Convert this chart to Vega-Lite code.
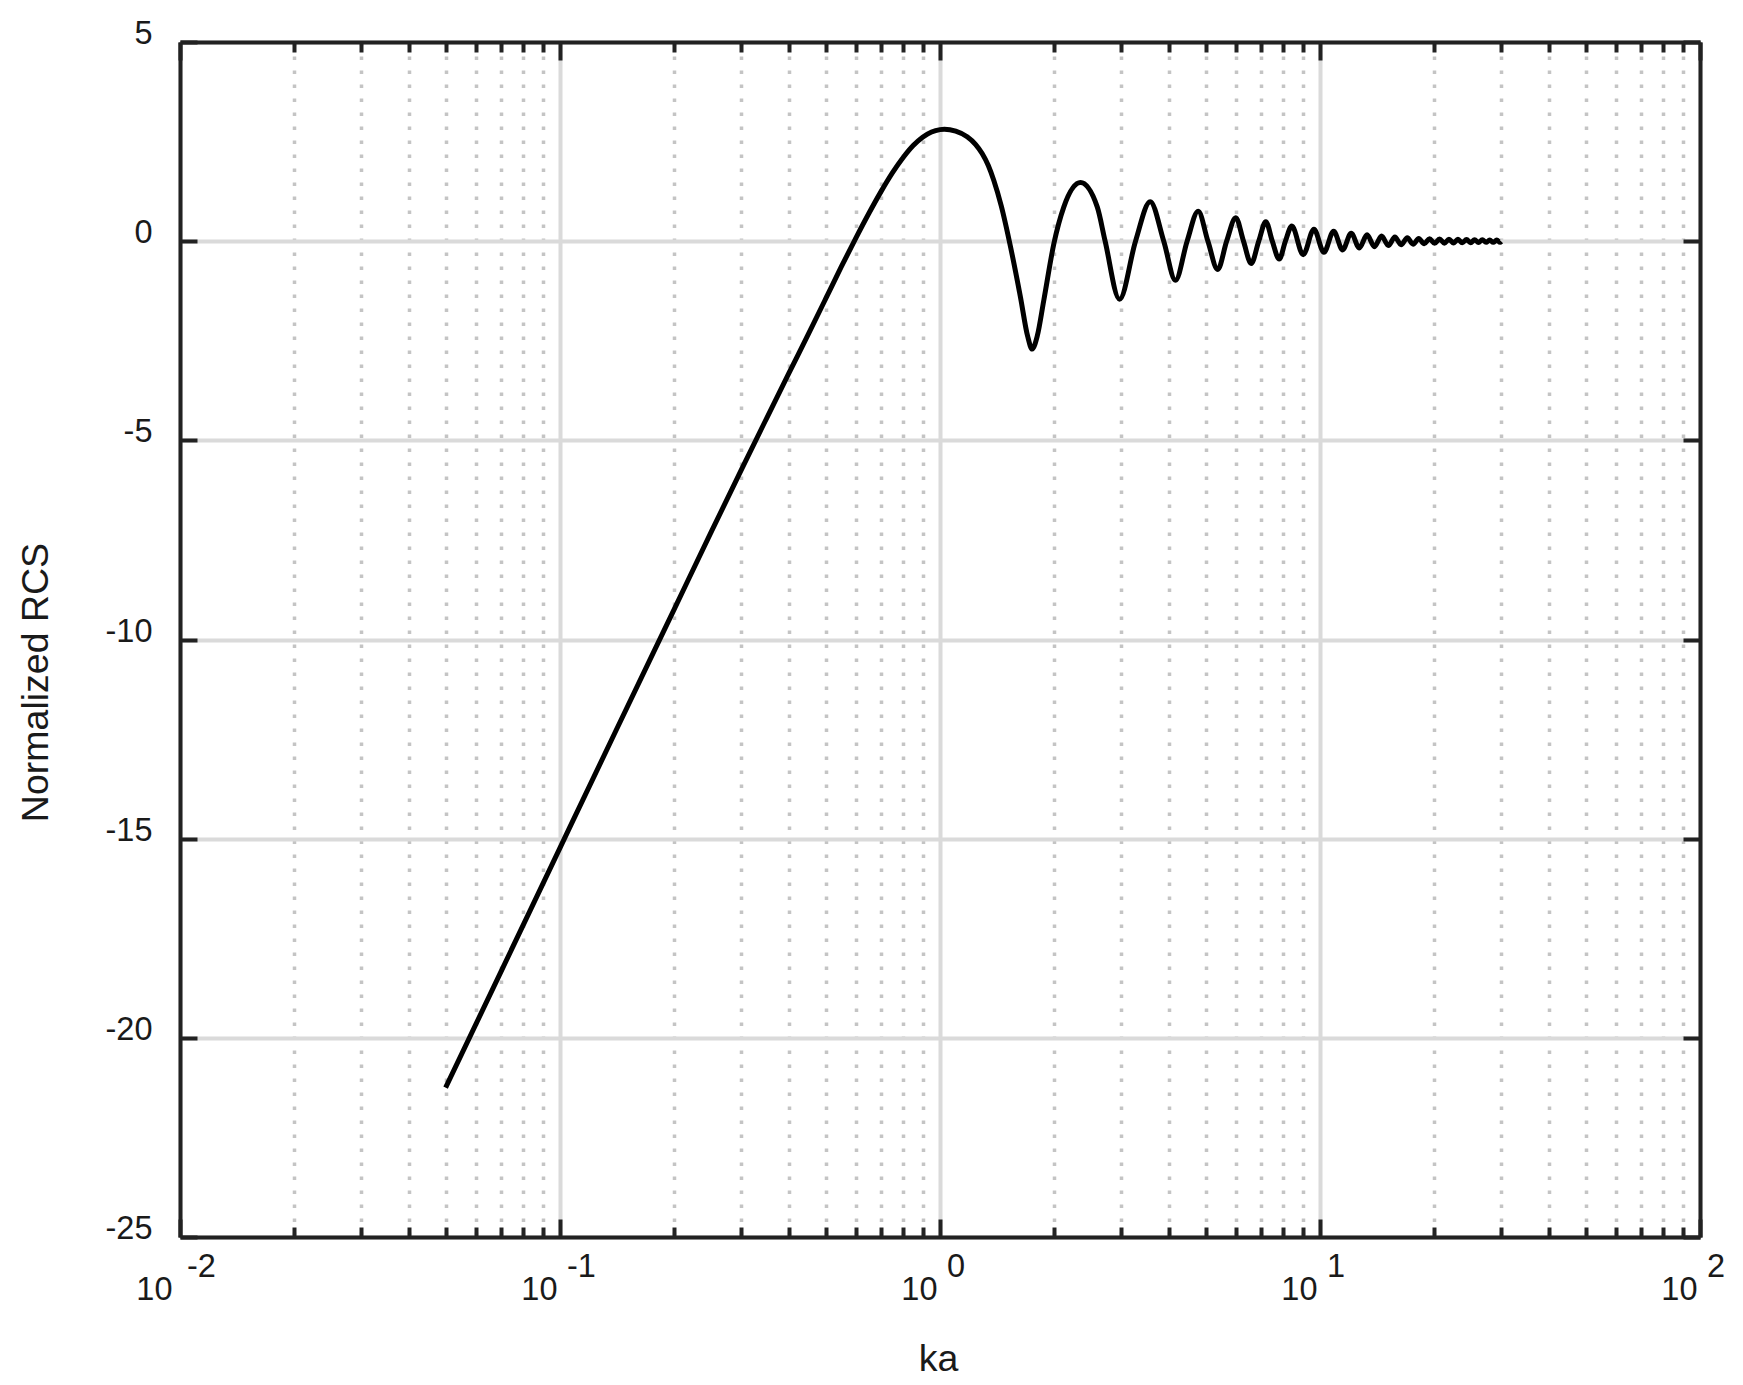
{
  "$schema": "https://vega.github.io/schema/vega-lite/v6.json",
  "width": 1520,
  "height": 1195,
  "autosize": {"type": "none"},
  "padding": {"left": 180, "top": 42, "right": 43, "bottom": 148},
  "background": "white",
  "config": {
    "view": {"stroke": null},
    "axis": {
      "labelFont": "Liberation Sans",
      "titleFont": "Liberation Sans",
      "labelColor": "#1a1a1a",
      "titleColor": "#1a1a1a",
      "domainColor": "#222222",
      "domainWidth": 4,
      "tickColor": "#222222",
      "tickWidth": 4,
      "labelFontSize": 32.5,
      "titleFontSize": 37.5,
      "titleFontWeight": "normal",
      "labelOverlap": false,
      "labelBound": false,
      "labelFlush": false
    }
  },
  "data": {
    "values": [
      {"ka": 0.05, "rcs": -21.25},
      {"ka": 0.07, "rcs": -18.33},
      {"ka": 0.1, "rcs": -15.23},
      {"ka": 0.14, "rcs": -12.31},
      {"ka": 0.2, "rcs": -9.23},
      {"ka": 0.25, "rcs": -7.3},
      {"ka": 0.3, "rcs": -5.74},
      {"ka": 0.35, "rcs": -4.44},
      {"ka": 0.4, "rcs": -3.32},
      {"ka": 0.45, "rcs": -2.34},
      {"ka": 0.5, "rcs": -1.45},
      {"ka": 0.55, "rcs": -0.64},
      {"ka": 0.6, "rcs": 0.07},
      {"ka": 0.65, "rcs": 0.7},
      {"ka": 0.7, "rcs": 1.25},
      {"ka": 0.75, "rcs": 1.72},
      {"ka": 0.8, "rcs": 2.1},
      {"ka": 0.85, "rcs": 2.4},
      {"ka": 0.9, "rcs": 2.61},
      {"ka": 0.95, "rcs": 2.74},
      {"ka": 1.0, "rcs": 2.8},
      {"ka": 1.027, "rcs": 2.81},
      {"ka": 1.1, "rcs": 2.76},
      {"ka": 1.179, "rcs": 2.62},
      {"ka": 1.24, "rcs": 2.43},
      {"ka": 1.291, "rcs": 2.2},
      {"ka": 1.34, "rcs": 1.9},
      {"ka": 1.385, "rcs": 1.53},
      {"ka": 1.45, "rcs": 0.88},
      {"ka": 1.533, "rcs": -0.14},
      {"ka": 1.628, "rcs": -1.4},
      {"ka": 1.7, "rcs": -2.38},
      {"ka": 1.748, "rcs": -2.71},
      {"ka": 1.803, "rcs": -2.38},
      {"ka": 1.876, "rcs": -1.48},
      {"ka": 1.994, "rcs": -0.06},
      {"ka": 2.118, "rcs": 0.86},
      {"ka": 2.343, "rcs": 1.47},
      {"ka": 2.593, "rcs": 0.86},
      {"ka": 2.72, "rcs": 0.0},
      {"ka": 2.968, "rcs": -1.46},
      {"ka": 3.27, "rcs": 0.0},
      {"ka": 3.574, "rcs": 0.99},
      {"ka": 3.88, "rcs": 0.0},
      {"ka": 4.166, "rcs": -0.98},
      {"ka": 4.47, "rcs": 0.0},
      {"ka": 4.78, "rcs": 0.75},
      {"ka": 5.07, "rcs": 0.0},
      {"ka": 5.38, "rcs": -0.71},
      {"ka": 5.68, "rcs": 0.0},
      {"ka": 6.003, "rcs": 0.59},
      {"ka": 6.29, "rcs": 0.0},
      {"ka": 6.59, "rcs": -0.56},
      {"ka": 6.9, "rcs": 0.0},
      {"ka": 7.2, "rcs": 0.49},
      {"ka": 7.49, "rcs": 0.0},
      {"ka": 7.81, "rcs": -0.45},
      {"ka": 8.11, "rcs": 0.0},
      {"ka": 8.43, "rcs": 0.38},
      {"ka": 9.03, "rcs": -0.34},
      {"ka": 9.64, "rcs": 0.3},
      {"ka": 10.24, "rcs": -0.28},
      {"ka": 10.86, "rcs": 0.25},
      {"ka": 11.47, "rcs": -0.22},
      {"ka": 12.08, "rcs": 0.2},
      {"ka": 12.69, "rcs": -0.17},
      {"ka": 13.3, "rcs": 0.16},
      {"ka": 13.91, "rcs": -0.14},
      {"ka": 14.52, "rcs": 0.13},
      {"ka": 15.13, "rcs": -0.11},
      {"ka": 15.74, "rcs": 0.105},
      {"ka": 16.35, "rcs": -0.09},
      {"ka": 16.97, "rcs": 0.085},
      {"ka": 17.58, "rcs": -0.075},
      {"ka": 18.19, "rcs": 0.07},
      {"ka": 18.8, "rcs": -0.065},
      {"ka": 19.41, "rcs": 0.06},
      {"ka": 20.02, "rcs": -0.055},
      {"ka": 20.63, "rcs": 0.055},
      {"ka": 21.24, "rcs": -0.05},
      {"ka": 21.85, "rcs": 0.05},
      {"ka": 22.46, "rcs": -0.045},
      {"ka": 23.07, "rcs": 0.045},
      {"ka": 23.68, "rcs": -0.04},
      {"ka": 24.3, "rcs": 0.04},
      {"ka": 24.91, "rcs": -0.04},
      {"ka": 25.52, "rcs": 0.035},
      {"ka": 26.13, "rcs": -0.035},
      {"ka": 26.74, "rcs": 0.035},
      {"ka": 27.35, "rcs": -0.03},
      {"ka": 27.96, "rcs": 0.03},
      {"ka": 28.57, "rcs": -0.03},
      {"ka": 29.18, "rcs": 0.03},
      {"ka": 29.79, "rcs": -0.03},
      {"ka": 30.0, "rcs": -0.01}
    ]
  },
  "layer": [
    {
      "mark": {"type": "line", "strokeOpacity": 0},
      "encoding": {
        "x": {
          "field": "ka", "type": "quantitative",
          "scale": {"type": "log", "domain": [0.01, 100], "nice": false},
          "axis": {
            "orient": "top",
            "values": [0.01,0.02,0.03,0.04,0.05,0.06,0.07,0.08,0.09,0.1,0.2,0.3,0.4,0.5,0.6,0.7,0.8,0.9,1,2,3,4,5,6,7,8,9,10,20,30,40,50,60,70,80,90,100],
            "labels": false,
            "grid": false,
            "title": null,
            "tickSize": {"condition": {"test": "abs(log(datum.value)/LN10 - round(log(datum.value)/LN10)) < 0.001", "value": -18}, "value": -10}
          }
        },
        "y": {
          "field": "rcs", "type": "quantitative",
          "scale": {"domain": [-25, 5], "nice": false, "zero": false},
          "axis": {
            "orient": "right",
            "values": [-25,-20,-15,-10,-5,0,5],
            "labels": false,
            "grid": false,
            "title": null,
            "tickSize": -17
          }
        }
      }
    },
    {
      "mark": {"type": "line", "color": "black", "strokeWidth": 5, "interpolate": "monotone", "strokeJoin": "round"},
      "encoding": {
        "x": {
          "field": "ka", "type": "quantitative",
          "scale": {"type": "log", "domain": [0.01, 100], "nice": false},
          "axis": {
            "orient": "bottom",
            "values": [0.01,0.02,0.03,0.04,0.05,0.06,0.07,0.08,0.09,0.1,0.2,0.3,0.4,0.5,0.6,0.7,0.8,0.9,1,2,3,4,5,6,7,8,9,10,20,30,40,50,60,70,80,90,100],
            "labelExpr": "abs(log(datum.value)/LN10 - round(log(datum.value)/LN10)) < 0.001 ? '10' : ''",
            "labelAlign": "right",
            "labelBaseline": "alphabetic",
            "labelOffset": {"condition": {"test": "datum.value < 0.05", "value": -8}, "value": -3},
            "labelPadding": 80,
            "grid": true,
            "gridColor": {"condition": {"test": "abs(log(datum.value)/LN10 - round(log(datum.value)/LN10)) < 0.001", "value": "#dadada"}, "value": "#c4c4c4"},
            "gridDash": {"condition": {"test": "abs(log(datum.value)/LN10 - round(log(datum.value)/LN10)) < 0.001", "value": []}, "value": [3.5, 10.5]},
            "gridWidth": {"condition": {"test": "abs(log(datum.value)/LN10 - round(log(datum.value)/LN10)) < 0.001", "value": 4}, "value": 3.5},
            "tickSize": {"condition": {"test": "abs(log(datum.value)/LN10 - round(log(datum.value)/LN10)) < 0.001", "value": -18}, "value": -10},
            "title": "ka",
            "titleX": 758,
            "titleY": 133,
            "titleBaseline": "alphabetic"
          }
        },
        "y": {
          "field": "rcs", "type": "quantitative",
          "scale": {"domain": [-25, 5], "nice": false, "zero": false},
          "axis": {
            "orient": "left",
            "values": [-25,-20,-15,-10,-5,0,5],
            "labelExpr": "'' + datum.value",
            "labelAlign": "right",
            "labelBaseline": "alphabetic",
            "labelOffset": 1.5,
            "labelPadding": 45,
            "tickSize": -17,
            "grid": true,
            "gridColor": "#dadada",
            "gridWidth": 4,
            "title": "Normalized RCS",
            "titleAngle": -90,
            "titleBaseline": "alphabetic",
            "titleX": -133,
            "titleY": 640
          }
        }
      }
    },
    {
      "data": {
        "values": [
          {"ka": 0.01, "e": "-2"},
          {"ka": 0.1, "e": "-1"},
          {"ka": 1, "e": "0"},
          {"ka": 10, "e": "1"},
          {"ka": 100, "e": "2"}
        ]
      },
      "mark": {"type": "text", "align": "left", "baseline": "alphabetic", "dx": 7, "dy": 40, "fontSize": 32.5, "font": "Liberation Sans", "color": "#1a1a1a"},
      "encoding": {
        "x": {"field": "ka", "type": "quantitative", "axis": null},
        "y": {"datum": -25, "type": "quantitative", "axis": null},
        "text": {"field": "e"}
      }
    }
  ],
  "resolve": {"axis": {"x": "independent", "y": "independent"}}
}
